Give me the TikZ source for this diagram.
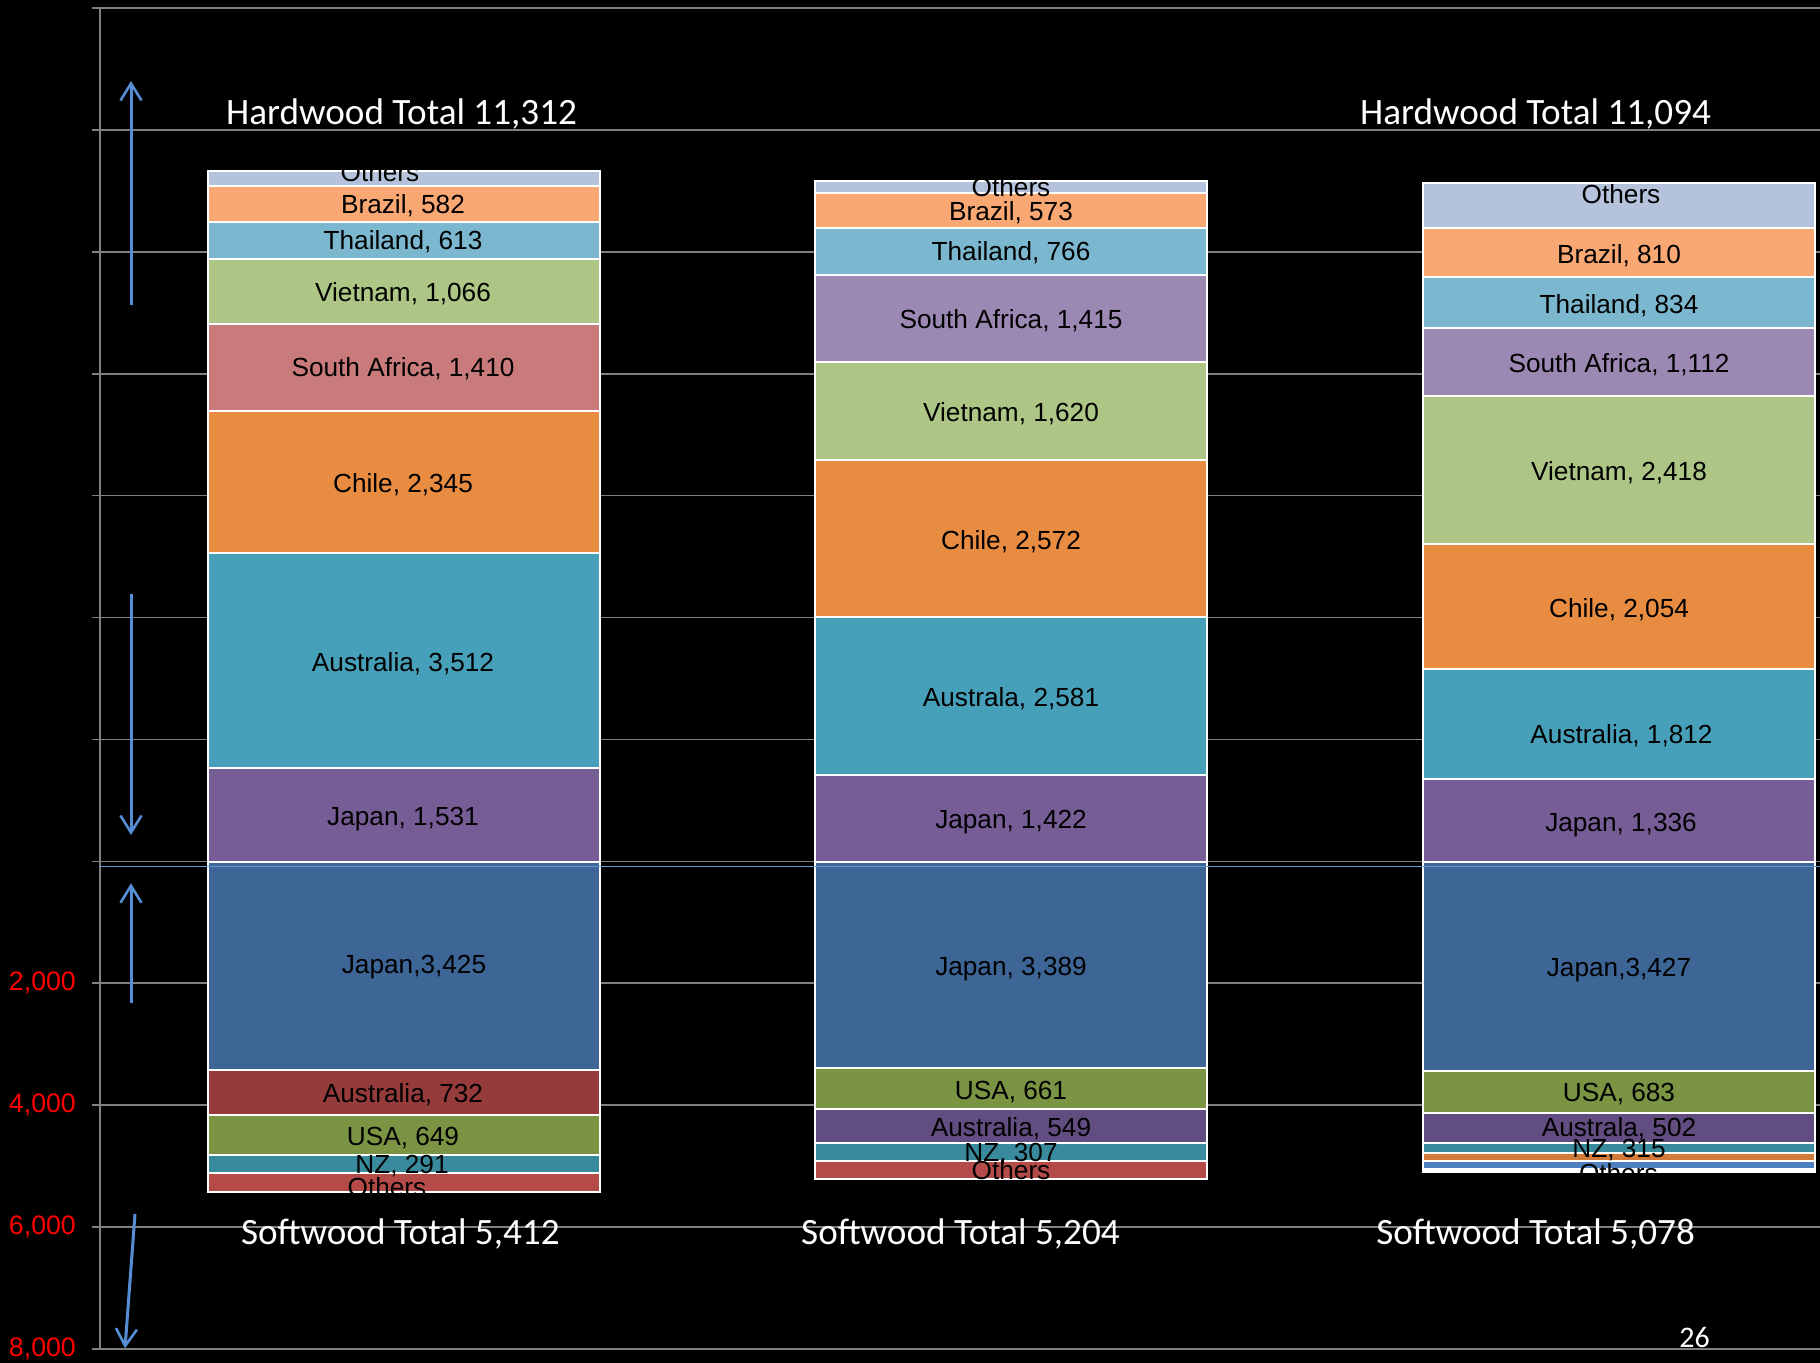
\documentclass[tikz,border=0pt]{standalone}
\usepackage{fontspec}
\setmainfont{Liberation Sans}
\newfontfamily\titlefont{Carlito}
\usetikzlibrary{arrows.meta}
\definecolor{gridgray}{RGB}{128,128,128}
\definecolor{zeroblue}{RGB}{91,155,213}
\definecolor{arrblue}{RGB}{85,142,213}
\definecolor{othersH}{RGB}{180,194,220}
\definecolor{brazilC}{RGB}{249,168,116}
\definecolor{thaiC}{RGB}{123,184,207}
\definecolor{vietC}{RGB}{174,198,133}
\definecolor{safricaA}{RGB}{201,123,123}
\definecolor{safricaB}{RGB}{155,137,180}
\definecolor{chileC}{RGB}{232,140,65}
\definecolor{austH}{RGB}{71,160,186}
\definecolor{japanH}{RGB}{119,93,150}
\definecolor{japanS}{RGB}{61,101,150}
\definecolor{austSA}{RGB}{149,59,59}
\definecolor{austSB}{RGB}{98,77,128}
\definecolor{usaC}{RGB}{123,148,67}
\definecolor{nzC}{RGB}{57,138,156}
\definecolor{othersS}{RGB}{180,75,72}
\definecolor{orangeT}{RGB}{210,122,58}
\definecolor{blueT}{RGB}{79,127,191}
\tikzset{
  gridline/.style={draw=gridgray, line width=1.6bp},
  segbox/.style={draw=white, line width=2bp},
  barlab/.style={anchor=base, inner sep=0pt, text=black, font=\fontsize{26.3}{30}\selectfont},
  axislab/.style={anchor=east, inner sep=0pt, text=red, font=\fontsize{26.8}{30}\selectfont},
  totallab/.style={anchor=base, inner sep=0pt, text=white, font=\titlefont\fontsize{37.3}{40}\selectfont},
  bluearrow/.style={draw=arrblue, line width=3bp, -{Straight Barb[length=17bp, width=21bp, line width=2.6bp]}},
}
\begin{document}
\begin{tikzpicture}[x=1bp,y=-1bp]
\fill[black] (0,0) rectangle (1820,1363);
\useasboundingbox (0,0) rectangle (1820,1363);
% grid
\foreach \i in {0,...,11} {
  \draw[gridline] (91.7,{8+121.9*\i}) -- (1820,{8+121.9*\i});
}
\draw[gridline] (100,8) -- (100,1349);
% axis labels
\node[axislab] (l2) at (76,983.3) {2,000};
\node[axislab] (l4) at (76,1105.2) {4,000};
\node[axislab] (l6) at (76,1227.1) {6,000};
\node[axislab] (l8) at (76,1349) {8,000};
% bar 1
\def\xa{207.5}\def\xb{599.5}
\fill[othersH,segbox] (\xa,170.7) rectangle (\xb,186.5);
\fill[brazilC,segbox] (\xa,186.5) rectangle (\xb,222);
\fill[thaiC,segbox] (\xa,222) rectangle (\xb,259.5);
\fill[vietC,segbox] (\xa,259.5) rectangle (\xb,324);
\fill[safricaA,segbox] (\xa,324) rectangle (\xb,411);
\fill[chileC,segbox] (\xa,411) rectangle (\xb,553);
\fill[austH,segbox] (\xa,553) rectangle (\xb,768);
\fill[japanH,segbox] (\xa,768) rectangle (\xb,862);
\fill[japanS,segbox] (\xa,862) rectangle (\xb,1070);
\fill[austSA,segbox] (\xa,1070) rectangle (\xb,1115);
\fill[usaC,segbox] (\xa,1115) rectangle (\xb,1155);
\fill[nzC,segbox] (\xa,1155) rectangle (\xb,1172.5);
\fill[othersS,segbox] (\xa,1172.5) rectangle (\xb,1192.3);
% bar 2
\def\xa{815}\def\xb{1207.3}
\fill[othersH,segbox] (\xa,180.7) rectangle (\xb,193.2);
\fill[brazilC,segbox] (\xa,193.2) rectangle (\xb,228.3);
\fill[thaiC,segbox] (\xa,228.3) rectangle (\xb,274.7);
\fill[safricaB,segbox] (\xa,274.7) rectangle (\xb,361.5);
\fill[vietC,segbox] (\xa,361.5) rectangle (\xb,460.2);
\fill[chileC,segbox] (\xa,460.2) rectangle (\xb,617);
\fill[austH,segbox] (\xa,617) rectangle (\xb,774.7);
\fill[japanH,segbox] (\xa,774.7) rectangle (\xb,862);
\fill[japanS,segbox] (\xa,862) rectangle (\xb,1068.3);
\fill[usaC,segbox] (\xa,1068.3) rectangle (\xb,1109);
\fill[austSB,segbox] (\xa,1109) rectangle (\xb,1142.5);
\fill[nzC,segbox] (\xa,1142.5) rectangle (\xb,1161);
\fill[othersS,segbox] (\xa,1161) rectangle (\xb,1179.3);
% bar 3
\def\xa{1423.3}\def\xb{1815}
\fill[othersH,segbox] (\xa,183.3) rectangle (\xb,228.3);
\fill[brazilC,segbox] (\xa,228.3) rectangle (\xb,277.3);
\fill[thaiC,segbox] (\xa,277.3) rectangle (\xb,328.3);
\fill[safricaB,segbox] (\xa,328.3) rectangle (\xb,396.4);
\fill[vietC,segbox] (\xa,396.4) rectangle (\xb,543.8);
\fill[chileC,segbox] (\xa,543.8) rectangle (\xb,669);
\fill[austH,segbox] (\xa,669) rectangle (\xb,779.4);
\fill[japanH,segbox] (\xa,779.4) rectangle (\xb,862);
\fill[japanS,segbox] (\xa,862) rectangle (\xb,1071);
\fill[usaC,segbox] (\xa,1071) rectangle (\xb,1112.5);
\fill[austSB,segbox] (\xa,1112.5) rectangle (\xb,1143);
\fill[nzC,segbox] (\xa,1143) rectangle (\xb,1153);
\fill[orangeT,segbox] (\xa,1153) rectangle (\xb,1161);
\fill[blueT,segbox] (\xa,1161) rectangle (\xb,1168.7);
\fill[white,segbox] (\xa,1168.7) rectangle (\xb,1172);
% zero line
\draw[draw=zeroblue, line width=1.5bp] (100,866.3) -- (1820,866.3);
% labels bar 1
\begin{scope}
\clip (207.5,170.7) rectangle (599.5,1192.3);
\node[barlab] (b1o) at (380,182) {Others};
\node[barlab] (b1br) at (403,213.5) {Brazil, 582};
\node[barlab] (b1th) at (403,249.5) {Thailand, 613};
\node[barlab] (b1vi) at (403,301.7) {Vietnam, 1,066};
\node[barlab] (b1sa) at (403,376) {South Africa, 1,410};
\node[barlab] (b1ch) at (403,492.4) {Chile, 2,345};
\node[barlab] (b1au) at (403,671.1) {Australia, 3,512};
\node[barlab] (b1ja) at (403,825.3) {Japan, 1,531};
\node[barlab] (b1js) at (414,973.7) {Japan,3,425};
\node[barlab] (b1as) at (403,1102.7) {Australia, 732};
\node[barlab] (b1us) at (403,1145) {USA, 649};
\node[barlab] (b1nz) at (402,1173.3) {NZ, 291};
\node[barlab] (b1os) at (387,1196) {Others};
\end{scope}
% labels bar 2
\begin{scope}
\clip (815,180.7) rectangle (1207.3,1182);
\node[barlab] (b2o) at (1011,196.5) {Others};
\node[barlab] (b2br) at (1011,220.5) {Brazil, 573};
\node[barlab] (b2th) at (1011,260.5) {Thailand, 766};
\node[barlab] (b2sa) at (1011,328.7) {South Africa, 1,415};
\node[barlab] (b2vi) at (1011,421.5) {Vietnam, 1,620};
\node[barlab] (b2ch) at (1011,549.2) {Chile, 2,572};
\node[barlab] (b2au) at (1011,706) {Australa, 2,581};
\node[barlab] (b2ja) at (1011,828) {Japan, 1,422};
\node[barlab] (b2js) at (1011,975.2) {Japan, 3,389};
\node[barlab] (b2us) at (1011,1099) {USA, 661};
\node[barlab] (b2as) at (1011,1136) {Australia, 549};
\node[barlab] (b2nz) at (1011,1161.5) {NZ, 307};
\node[barlab] (b2os) at (1011,1179) {Others};
\end{scope}
% labels bar 3
\begin{scope}
\clip (1423.3,183.3) rectangle (1815,1172);
\node[barlab] (b3o) at (1621,203.3) {Others};
\node[barlab] (b3br) at (1619,263.2) {Brazil, 810};
\node[barlab] (b3th) at (1619,313.2) {Thailand, 834};
\node[barlab] (b3sa) at (1619,372) {South Africa, 1,112};
\node[barlab] (b3vi) at (1619,480) {Vietnam, 2,418};
\node[barlab] (b3ch) at (1619,617) {Chile, 2,054};
\node[barlab] (b3au) at (1621.5,743) {Australia, 1,812};
\node[barlab] (b3ja) at (1621,831.3) {Japan, 1,336};
\node[barlab] (b3js) at (1619,976.4) {Japan,3,427};
\node[barlab] (b3us) at (1619,1101.7) {USA, 683};
\node[barlab] (b3as) at (1619,1136.7) {Australa, 502};
\node[barlab] (b3nz) at (1619,1157.3) {NZ, 315};
\node[barlab] (b3os) at (1618.3,1182.6) {Others};
\end{scope}
% totals
\node[totallab] (h1) at (401.6,125) {Hardwood Total 11,312};
\node[totallab] (h3) at (1535.6,125) {Hardwood Total 11,094};
\node[totallab] (s1) at (400.4,1244) {Softwood Total 5,412};
\node[totallab] (s2) at (960.5,1244) {Softwood Total 5,204};
\node[totallab] (s3) at (1535.6,1244) {Softwood Total 5,078};
\node[anchor=base, inner sep=0pt, text=white, font=\titlefont\fontsize{30}{34}\selectfont] (pg) at (1694.5,1347.7) {26};
% arrows
\coordinate (a1s) at (131,305);
\coordinate (a1e) at (131,81);
\coordinate (a2s) at (131,594);
\coordinate (a2e) at (131,835);
\coordinate (a3s) at (131,1002.7);
\coordinate (a3e) at (131,883.3);
\coordinate (a4s) at (135,1214);
\coordinate (a4e) at (125,1348.3);
\draw[bluearrow] (a1s) -- (a1e);
\draw[bluearrow] (a2s) -- (a2e);
\draw[bluearrow] (a3s) -- (a3e);
\draw[bluearrow] (a4s) -- (a4e);
\end{tikzpicture}
\end{document}
